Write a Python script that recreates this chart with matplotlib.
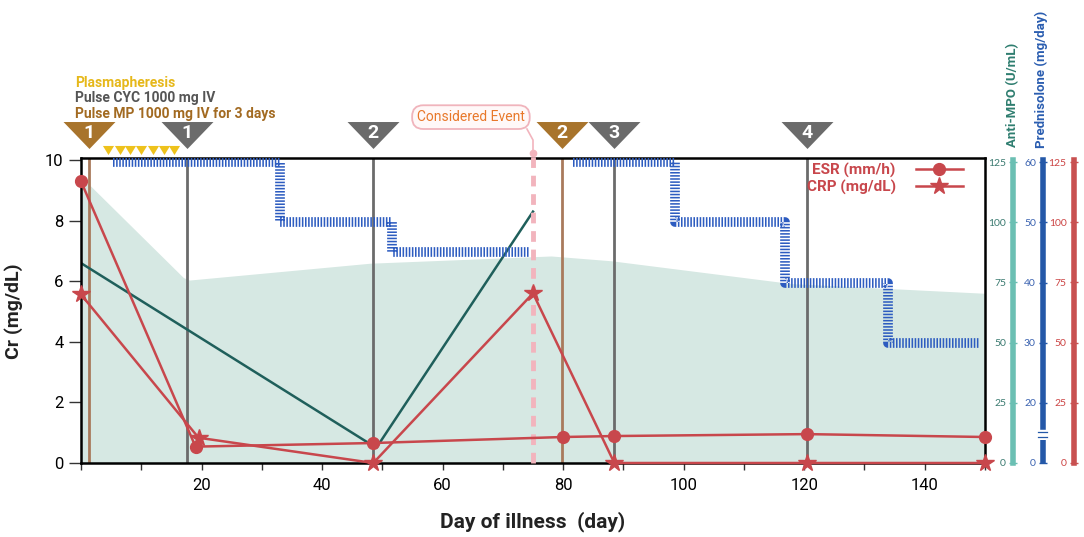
import matplotlib.pyplot as plt
from matplotlib import transforms
from matplotlib.lines import Line2D

plt.rcParams['font.family'] = ['Roboto', 'DejaVu Sans']

# values
esr_day = [0, 19, 48.5, 80, 88.5, 120.5, 150]
esr_val = [117, 6.8, 8.3, 10.8, 11.2, 12.0, 10.8]
crp_day = [0, 19.5, 48.5, 75, 88.5, 120.5, 150]
crp_val = [70, 10.5, 0, 70.5, 0, 0, 0]
cr_day = [0, 49, 75]
cr_val = [6.6, 0.5, 8.3]
mpo_day = [0, 17, 18, 48, 78, 88, 118, 150]
mpo_val = [119, 77, 76, 83, 86, 84, 74.5, 70.5]
pred_day_1 = [5.3, 33, 51.6, 74.5]
pred_val_1 = [60, 50, 45, 45]
pred_day_2 = [81.6, 98.6, 116.8, 133.9, 149.2]
pred_val_2 = [60, 50, 40, 30, 30]
plasma_day = [4.5, 6.4, 8.2, 10, 11.9, 13.7, 15.5]
cyc_day = [17.6, 48.5, 88.4, 120.5]
mp_day = [1.3, 79.8]
event_day = 75

red = '#c8474c'
teal = '#1f5f5b'
gray = '#6b6b6b'
brown = '#a8742c'

fig = plt.figure(figsize=(10.84, 5.37), dpi=100)
ax = fig.add_axes([81/1084, 74/537, 904/1084, 305/537])
ax_mpo = ax.twinx()
ax_pred = ax.twinx()
ax_red = ax.twinx()

ax_mpo.set_zorder(0)
ax.set_zorder(1)
ax_pred.set_zorder(2)
ax_red.set_zorder(3)
ax.patch.set_visible(False)

ax.set_xlim(0, 150)
ax.set_ylim(0, 10.07)
ax_mpo.set_ylim(0, 126.7)
ax_red.set_ylim(0, 126.7)
ax_pred.set_ylim(10, 60.7)

# anti-MPO area
ax_mpo.fill_between(mpo_day, 0, mpo_val, color='#d6e8e3', lw=0)

# vertical event lines
for d in cyc_day:
    ax.axvline(d, color=gray, lw=2)
for d in mp_day:
    ax.axvline(d, color='#a97a5c', lw=2)

# prednisolone band
for dd, vv in [(pred_day_1, pred_val_1), (pred_day_2, pred_val_2)]:
    ax_pred.plot(dd, vv, drawstyle='steps-post', color='#2d5cc0', lw=7,
                 dashes=(0.16, 0.16))

# Cr
ax.plot(cr_day, cr_val, color=teal, lw=1.8)

# ESR / CRP
ax_red.plot(esr_day, esr_val, color=red, lw=1.8, marker='o', ms=8.5,
            clip_on=False)
ax_red.plot(crp_day, crp_val, color=red, lw=1.8, marker='*', ms=13,
            clip_on=False)

# considered event
trans = transforms.blended_transform_factory(ax.transData, ax.transAxes)
ax.plot([event_day, event_day], [0, 1.016], transform=trans, color='#f2b4bd',
        lw=3.5, dashes=(2.2, 1.6), clip_on=False, zorder=5)
ax.plot([event_day], [1.016], transform=trans, marker='o', ms=4.5,
        color='#f2b4bd', clip_on=False, zorder=5)
ax.plot([event_day, event_day, 74], [1.016, 1.059, 1.095], transform=trans,
        color='#f2b4bd', lw=1.2, clip_on=False)
ax.text(64.7, 1.134, 'Considered Event', transform=trans, fontsize=10,
        color='#e8782a', ha='center', va='center',
        bbox=dict(boxstyle='round,pad=0.35,rounding_size=0.8', fc='#fff8f8',
                  ec='#f0b4bc', lw=1.3))

# numbered triangles
tri = [(-26, 13.5), (26, 13.5), (0, -13.5)]
for i, d in enumerate(cyc_day):
    ax.plot([d], [1.077], transform=trans, marker=tri, ms=37.4, color=gray,
            mec='none', clip_on=False)
    ax.text(d, 1.083, str(i + 1), transform=trans, color='white',
            fontsize=14, fontweight='bold', ha='center', va='center')
for i, d in enumerate(mp_day):
    ax.plot([d], [1.077], transform=trans, marker=tri, ms=37.4, color=brown,
            mec='none', clip_on=False)
    ax.text(d, 1.083, str(i + 1), transform=trans, color='white',
            fontsize=14, fontweight='bold', ha='center', va='center')

# plasmapheresis
small_tri = [(-5.5, 4.5), (5.5, 4.5), (0, -4.5)]
ax.plot(plasma_day, [1.026] * len(plasma_day), transform=trans, ls='none',
        marker=small_tri, ms=8, color='#eec21c', mec='none', clip_on=False)

fig.text(75/1084, 1 - 83/537, 'Plasmapheresis', color='#e6b81a',
         fontsize=10, fontweight='bold', va='center')
fig.text(75/1084, 1 - 98/537, 'Pulse CYC 1000 mg IV', color='#555555',
         fontsize=10, fontweight='bold', va='center')
fig.text(75/1084, 1 - 114/537, 'Pulse MP 1000 mg IV for 3 days',
         color='#a26a21', fontsize=10, fontweight='bold', va='center')

# main axes styling
for s in ax.spines.values():
    s.set_linewidth(1.8)
    s.set_color('black')
ticks = list(range(0, 151, 10))
ax.set_xticks(ticks)
ax.set_xticklabels(['' if (t == 0 or t % 20) else str(t) for t in ticks])
ax.set_yticks([0, 2, 4, 6, 8, 10])
ax.tick_params(axis='x', length=5, width=1, color='#333333', pad=6,
               labelsize=12)
ax.tick_params(axis='y', length=8.5, width=1, color='#333333', pad=4,
               labelsize=12)

fig.text(533/1084, 1 - 522/537, 'Day of illness  (day)', fontsize=15,
         fontweight='bold', ha='center', va='center', color='#222222')
fig.text(14/1084, 1 - 311/537, 'Cr (mg/dL)', fontsize=14, fontweight='bold',
         rotation=90, ha='center', va='center', color='#222222')

# right-hand scales
specs = [
    (ax_mpo, 1.031, '#6bbfb3', '#3a7a70', [0, 25, 50, 75, 100, 125],
     ['0', '25', '50', '75', '100', '125']),
    (ax_pred, 1.064, '#2458a8', '#3a62b0', [10, 20, 30, 40, 50, 60],
     ['0', '20', '30', '40', '50', '60']),
    (ax_red, 1.098, '#c85050', '#cc4444', [0, 25, 50, 75, 100, 125],
     ['0', '25', '50', '75', '100', '125']),
]
for a, pos, bar_c, lab_c, tv, tl in specs:
    for s in a.spines.values():
        s.set_visible(False)
    a.spines['left'].set_visible(True)
    a.spines['left'].set_position(('axes', pos))
    a.spines['left'].set_color(bar_c)
    a.spines['left'].set_linewidth(4)
    a.yaxis.tick_left()
    a.set_yticks(tv)
    a.set_yticklabels(tl)
    a.tick_params(axis='y', direction='inout', length=6, width=1,
                  color=bar_c, labelcolor=lab_c, labelsize=7.5, pad=2)
    for lab in a.get_yticklabels():
        lab.set_fontfamily(['Lato', 'DejaVu Sans'])

ax_mpo.spines['left'].set_bounds(0, 125.8)
ax_red.spines['left'].set_bounds(0, 125.8)
ax_pred.spines['left'].set_bounds(16, 60.4)
ptrans = transforms.blended_transform_factory(ax_pred.transAxes, ax_pred.transData)
ax_pred.plot([1.064, 1.064], [10, 13.8], transform=ptrans, color='#2458a8',
             lw=4, solid_capstyle='butt', clip_on=False)
for y in [15.1, 14.4]:
    ax_pred.plot([1.059, 1.069], [y, y], transform=ptrans, color='#2458a8',
                 lw=0.9, clip_on=False)

fig.text(1013/1084, 1 - 147/537, 'Anti-MPO (U/mL)', color='#2e7d6f',
         fontsize=9.5, fontweight='bold', rotation=90, ha='center', va='bottom')
fig.text(1041/1084, 1 - 148/537, 'Prednisolone (mg/day)', color='#2a5db0',
         fontsize=9.5, fontweight='bold', rotation=90, ha='center', va='bottom')

# legend
handles = [Line2D([], [], color=red, lw=1.8, marker='o', ms=8.5),
           Line2D([], [], color=red, lw=1.8, marker='*', ms=13)]
leg = ax_red.legend(handles, ['ESR (mm/h)', 'CRP (mg/dL)'], loc='upper right',
                    bbox_to_anchor=(0.9757, 0.985), frameon=False,
                    markerfirst=False, handlelength=3.1, handletextpad=1.3,
                    labelspacing=0.15, borderpad=0, borderaxespad=0,
                    prop={'size': 11, 'weight': 'bold'}, labelcolor=red)

fig.savefig('out.png', dpi=100)
